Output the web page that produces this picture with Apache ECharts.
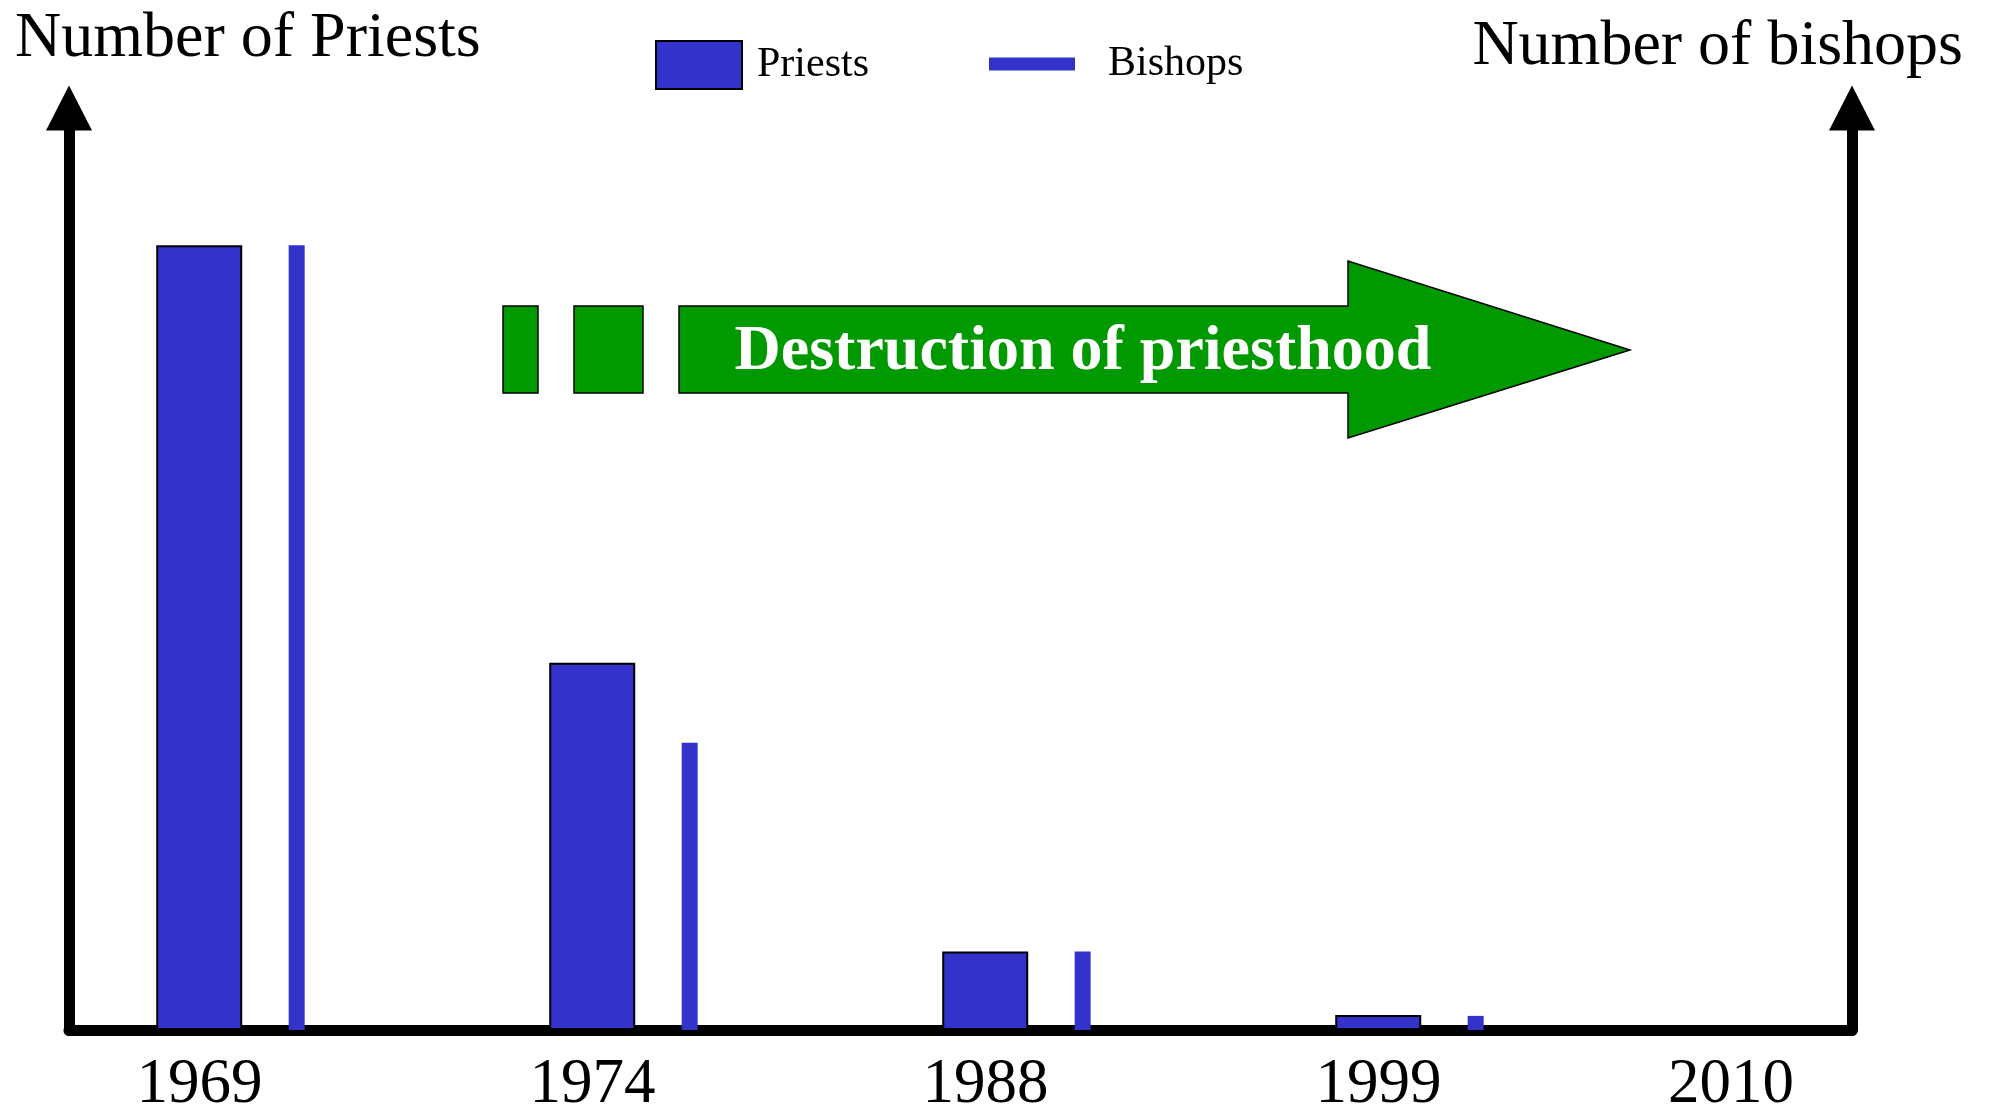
<!DOCTYPE html>
<html>
<head>
<meta charset="utf-8">
<script src="https://cdn.jsdelivr.net/npm/echarts@6/dist/echarts.min.js"></script>
<style>
  html, body { margin: 0; padding: 0; background: #fff; }
  #chart { width: 1990px; height: 1109px; }
</style>
</head>
<body>
<div id="chart"></div>
<script>
// years on the x axis (2010 has no bars)
const years = ['1969', '1974', '1988', '1999', '2010'];
// relative heights (no scale printed)
const priests = [100, 46.8, 10, 1.9];
const bishops = [100, 36.6, 10, 1.8];

const serif = "'Liberation Serif', 'Times New Roman', serif";
const blue = '#3333cc';
const green = '#009900';

const chart = echarts.init(document.getElementById('chart'));

const yAxisBase = {
    type: 'value',
    min: 0,
    max: 117.5,
    axisLine: {
        show: true,
        onZero: false,
        symbol: ['none', 'triangle'],
        symbolSize: [46, 45],
        lineStyle: { color: '#000', width: 11 }
    },
    axisTick: { show: false },
    axisLabel: { show: false },
    splitLine: { show: false }
};

chart.setOption({
    animation: false,
    backgroundColor: '#fff',
    title: [
        {
            text: 'Number of Priests',
            left: 10, top: 2,
            textStyle: { fontFamily: serif, fontSize: 64, fontWeight: 'normal', color: '#000' }
        },
        {
            text: 'Number of bishops',
            right: 22, top: 10,
            textStyle: { fontFamily: serif, fontSize: 64, fontWeight: 'normal', color: '#000' }
        }
    ],
    legend: [
        {
            data: ['Priests'],
            left: 650, top: 35,
            itemWidth: 86, itemHeight: 48,
            icon: 'rect',
            textStyle: { fontFamily: serif, fontSize: 42, color: '#000', padding: [0, 0, 0, 10] }
        },
        {
            data: ['Bishops'],
            left: 984, top: 38,
            itemWidth: 86, itemHeight: 13,
            icon: 'rect',
            textStyle: { fontFamily: serif, fontSize: 42, color: '#000', padding: [0, 0, 0, 28] }
        }
    ],
    grid: { left: 69, right: 138, top: 108, bottom: 79, containLabel: false, outerBoundsMode: 'none' },
    xAxis: {
        type: 'value',
        min: -0.4108,
        max: 4.1261,
        axisLine: { show: true, lineStyle: { color: '#000', width: 11 } },
        axisTick: { show: false },
        splitLine: { show: false },
        axisLabel: {
            customValues: [0, 1, 2, 3, 4],
            formatter: v => {
                const i = Math.round(v);
                return i === 4 ? '{s|' + years[i] + '}' : years[i];
            },
            rich: {
                s: { fontFamily: serif, fontSize: 63, color: '#000', padding: [0, 81, 0, 0] }
            },
            fontFamily: serif,
            fontSize: 63,
            color: '#000',
            margin: 24,
            padding: [0, 62, 0, 0]
        }
    },
    yAxis: [
        Object.assign({ position: 'left' }, yAxisBase),
        Object.assign({ position: 'right' }, yAxisBase)
    ],
    series: [
        {
            name: 'Priests',
            type: 'bar',
            yAxisIndex: 0,
            barWidth: 86,
            barGap: '54%',
            itemStyle: { color: blue, borderColor: '#000', borderWidth: 2 },
            data: priests.map((v, i) => [i, v])
        },
        {
            name: 'Bishops',
            type: 'bar',
            yAxisIndex: 1,
            barWidth: 16,
            itemStyle: { color: blue },
            data: bishops.map((v, i) => [i, v])
        }
    ],
    graphic: [
        {
            type: 'rect',
            shape: { x: 503, y: 306, width: 35, height: 87 },
            style: { fill: green, stroke: '#000', lineWidth: 1.5 }
        },
        {
            type: 'rect',
            shape: { x: 574, y: 306, width: 69, height: 87 },
            style: { fill: green, stroke: '#000', lineWidth: 1.5 }
        },
        {
            type: 'polygon',
            shape: {
                points: [[679, 306], [1348, 306], [1348, 261], [1630, 350],
                         [1348, 438], [1348, 393], [679, 393]]
            },
            style: { fill: green, stroke: '#000', lineWidth: 1.5 }
        },
        {
            type: 'text',
            x: 1083, y: 352,
            style: {
                text: 'Destruction of priesthood',
                fill: '#fff',
                font: 'bold 64px ' + serif,
                align: 'center',
                verticalAlign: 'middle'
            }
        }
    ]
});
</script>
</body>
</html>
